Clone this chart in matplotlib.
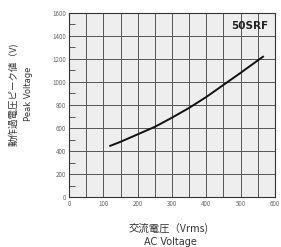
import matplotlib.pyplot as plt
from matplotlib.ticker import MultipleLocator

plt.rcParams['font.family'] = ['Noto Sans CJK JP', 'DejaVu Sans']

# curve
ac_voltage = [120, 150, 200, 250, 300, 350, 400, 450, 500, 565]
peak_voltage = [445, 480, 545, 610, 690, 775, 870, 975, 1080, 1220]

x_ticks = [0, 100, 200, 300, 400, 500, 600]
y_ticks = [0, 200, 400, 600, 800, 1000, 1200, 1400, 1600]

fig = plt.figure(figsize=(2.81, 2.47), dpi=100)
ax = fig.add_axes([0.2456, 0.2024, 0.733, 0.745])
ax.set_facecolor('#eeeeee')

ax.plot(ac_voltage, peak_voltage, color='#111111', lw=1.4)

ax.set_xlim(0, 600)
ax.set_ylim(0, 1600)
ax.set_xticks(x_ticks)
ax.set_yticks(y_ticks)
ax.xaxis.set_minor_locator(MultipleLocator(50))
ax.yaxis.set_minor_locator(MultipleLocator(100))

# vertical grid every 50, horizontal every 200
ax.grid(True, which='major', color='#555555', lw=0.7)
ax.grid(True, which='minor', axis='x', color='#555555', lw=0.7)
ax.tick_params(which='both', direction='in', labelsize=4.5, labelcolor='#666666',
               length=0, pad=2)
ax.tick_params(which='minor', axis='y', length=4, color='#555555', width=0.7)
for s in ax.spines.values():
    s.set_color('#333333')
    s.set_linewidth(0.8)

ax.text(0.97, 0.955, '50SRF', transform=ax.transAxes, ha='right', va='top',
        fontsize=7.5, fontweight='bold', color='#222222', family='DejaVu Sans')

fig.text(0.6, 0.077, '交流電圧（Vrms)', ha='center', va='center', fontsize=7.5,
         color='#333333')
fig.text(0.605, 0.02, 'AC Voltage', ha='center', va='center', fontsize=7,
         color='#333333', family='DejaVu Sans')
fig.text(0.05, 0.62, '動作過電圧ピーク値（V)', rotation=90, ha='center', va='center',
         fontsize=6.8, color='#333333')
fig.text(0.1, 0.62, 'Peak Voltage', rotation=90, ha='center', va='center',
         fontsize=6, color='#333333', family='DejaVu Sans')

fig.savefig('out.png', dpi=100)
